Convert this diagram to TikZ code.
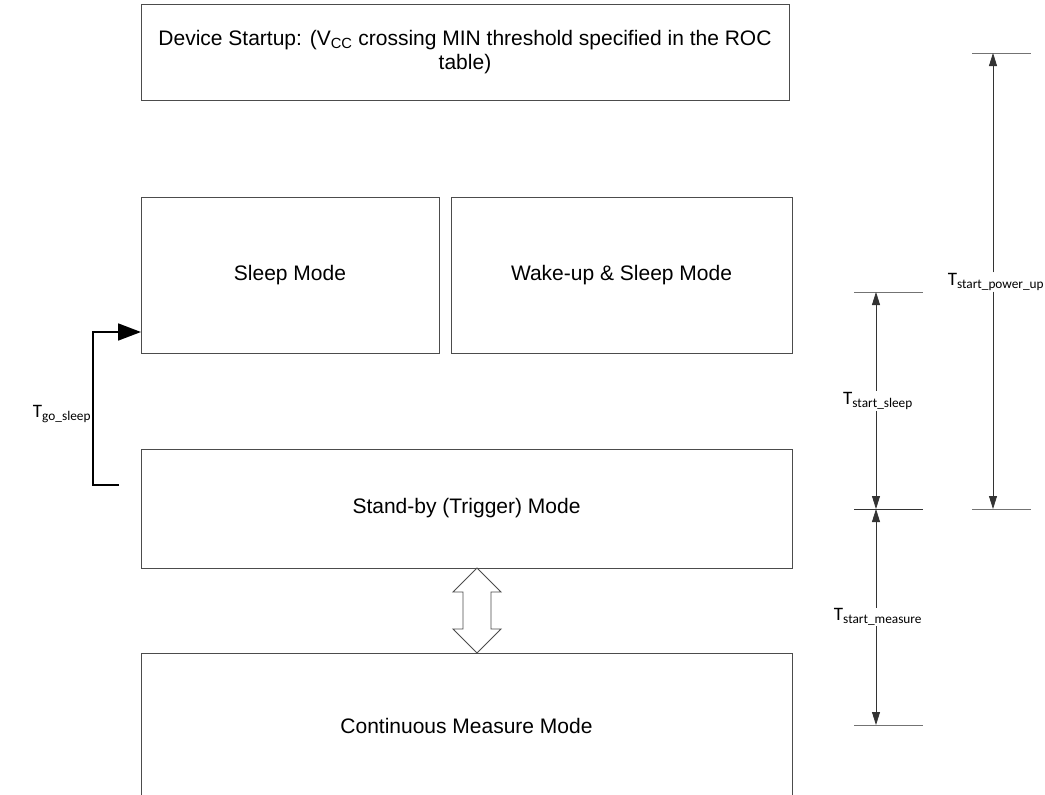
\documentclass[tikz,border=0pt]{standalone}
\usepackage{fontspec}
\setmainfont{Liberation Sans}
\newfontfamily\calib{Carlito}
\usetikzlibrary{arrows.meta,calc}
\begin{document}
\begin{tikzpicture}[x=1pt,y=-1pt,
  box/.style={draw=black!70,line width=0.9pt,rectangle,inner sep=0pt,align=center,font=\fontsize{21}{24}\selectfont},
  tickline/.style={draw=black!55,line width=1pt},
  dim/.style={draw=black!80,line width=0.8pt,-{Triangle[length=13pt,width=8pt]}},
  tlab/.style={font=\calib\fontsize{19}{22}\selectfont,inner sep=1pt},
  bracket/.style={draw=black,line width=1.8pt,-{Triangle[length=23pt,width=17pt]}},
  dblarrow/.style={draw=black!70,line width=0.9pt,fill=white}
]
\useasboundingbox (0,0) rectangle (1045,795);

% boxes
\node[box,minimum width=648pt,minimum height=96pt] (start) at (465,52)
  {Device Startup: (V\textsubscript{CC} crossing MIN threshold specified in the ROC\\table)};
\node[box,minimum width=298pt,minimum height=156pt] (sleep) at (290,275) {Sleep Mode};
\node[box,minimum width=341pt,minimum height=156pt] (wake) at (621.5,275) {Wake-up \& Sleep Mode};
\node[box,minimum width=651pt,minimum height=119pt] (standby) at (466.5,508.5) {Stand-by (Trigger) Mode};
\node[box,minimum width=651pt,minimum height=146pt] (cont) at (466.5,726) {Continuous Measure Mode};

% double arrow between standby and continuous
\coordinate (da1) at (477,568);
\coordinate (da2) at (477,653);
\draw[dblarrow] (da1) -- ++(24,24) -- ++(-10,0) -- ++(0,37) -- ++(10,0) -- (da2)
  -- ++(-24,-24) -- ++(10,0) -- ++(0,-37) -- ++(-10,0) -- cycle;

% T_go_sleep bracket
\coordinate (gsend) at (119,485);
\coordinate (gstip) at (141,332);
\node[tlab] (gslab) at (62,414) {T\textsubscript{go\_sleep}};
\draw[bracket] (gsend) -- (93,485) |- (gstip);

% tick lines
\coordinate (t1a) at (854,292); \coordinate (t1b) at (923,292);
\coordinate (t2a) at (854,509); \coordinate (t2b) at (923,509);
\coordinate (t3a) at (854,725); \coordinate (t3b) at (923,725);
\coordinate (p1a) at (972,53);  \coordinate (p1b) at (1031,53);
\coordinate (p2a) at (972,509); \coordinate (p2b) at (1031,509);
\draw[tickline] (t1a) -- (t1b);
\draw[tickline,draw=black!80] (t2a) -- (t2b);
\draw[tickline] (t3a) -- (t3b);
\draw[tickline] (p1a) -- (p1b);
\draw[tickline] (p2a) -- (p2b);

% dimension arrows
\coordinate (s1) at (876,292);
\coordinate (s2) at (876,509);
\coordinate (s3) at (876,725);
\coordinate (q1) at (993,53);
\coordinate (q2) at (993,509);

\node[tlab] (lsleep) at (878,401) {T\textsubscript{start\_sleep}};
\node[tlab] (lmeas) at (878,617) {T\textsubscript{start\_measure}};
\node[tlab] (lpow) at (996,282) {T\textsubscript{start\_power\_up}};

\draw[dim] (lsleep.north -| s1) -- (s1);
\draw[dim] (lsleep.south -| s1) -- (s2);
\draw[dim] (lmeas.north -| s1) -- (s2);
\draw[dim] (lmeas.south -| s1) -- (s3);
\draw[dim] (lpow.north -| q1) -- (q1);
\draw[dim] (lpow.south -| q1) -- (q2);
\end{tikzpicture}
\end{document}
